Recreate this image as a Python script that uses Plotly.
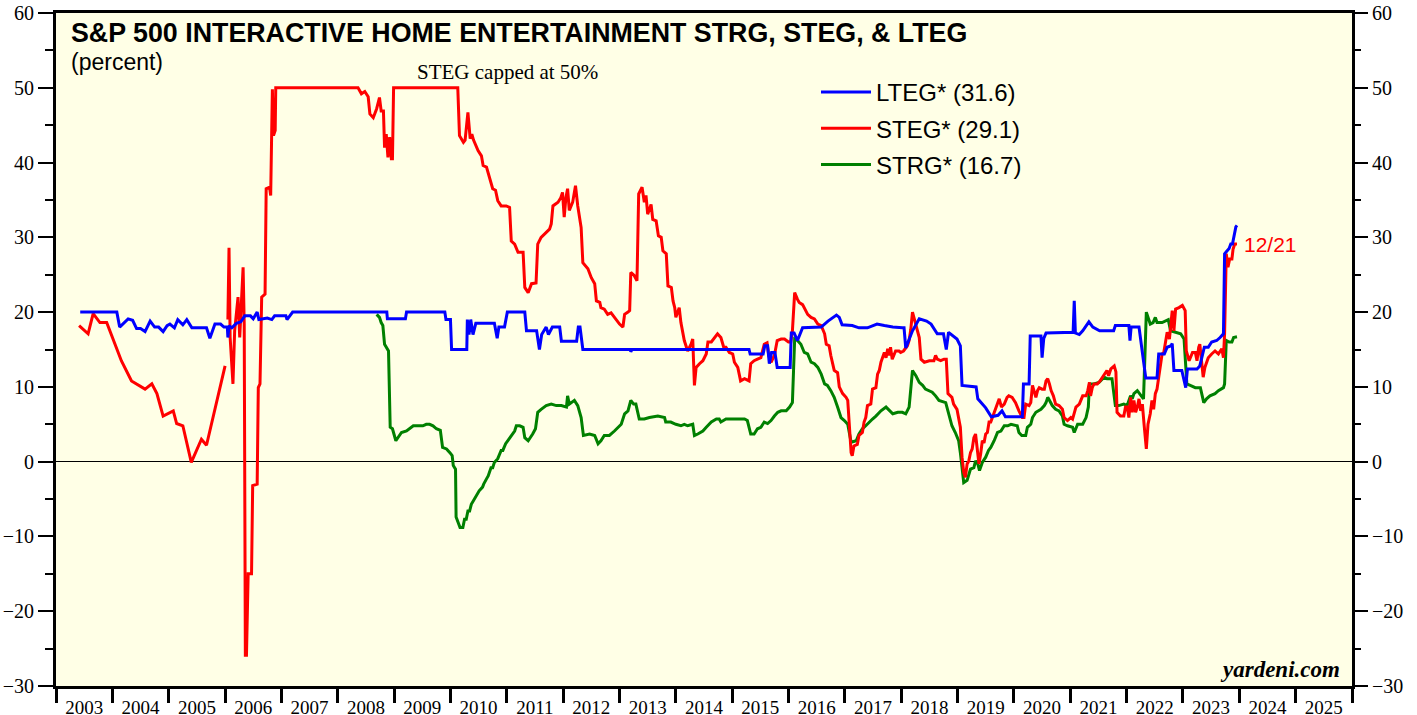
import datetime as dt
import plotly.graph_objects as go

# ---------------- data (decimal year, percent) ----------------
lteg_t = [2003.43, 2004.08, 2004.13, 2004.2, 2004.28, 2004.36, 2004.43, 2004.5, 2004.58, 2004.67,
          2004.75, 2004.82, 2004.9, 2004.97, 2005.02, 2005.1, 2005.16, 2005.25, 2005.32, 2005.41,
          2005.67, 2005.73, 2005.82, 2005.92, 2005.98, 2006.04, 2006.05, 2006.07, 2006.12, 2006.2,
          2006.28, 2006.35, 2006.45, 2006.5, 2006.57, 2006.6, 2006.75, 2006.83, 2006.88, 2007.08,
          2007.1, 2007.2, 2008.87, 2008.88, 2009.2, 2009.22, 2009.9, 2009.92, 2010.0, 2010.02,
          2010.29, 2010.3, 2010.33, 2010.36, 2010.4, 2010.45, 2010.78, 2010.83, 2010.86, 2010.96,
          2011.01, 2011.32, 2011.35, 2011.53, 2011.58, 2011.62, 2011.7, 2011.74, 2011.81, 2011.94,
          2011.97, 2012.24, 2012.27, 2012.3, 2012.35, 2013.19, 2013.2, 2013.22, 2015.3, 2015.32,
          2015.55, 2015.58, 2015.63, 2015.66, 2015.7, 2015.76, 2015.8, 2016.03, 2016.05, 2016.1,
          2016.16, 2016.25, 2016.58, 2016.7, 2016.85, 2016.9, 2016.95, 2017.13, 2017.25, 2017.4,
          2017.57, 2017.7, 2017.85, 2018.02, 2018.05, 2018.08, 2018.12, 2018.2, 2018.32, 2018.45,
          2018.53, 2018.64, 2018.75, 2018.8, 2018.84, 2018.99, 2019.05, 2019.08, 2019.33, 2019.36,
          2019.5, 2019.6, 2019.72, 2019.79, 2019.85, 2020.15, 2020.17, 2020.27, 2020.29, 2020.48,
          2020.5, 2020.53, 2020.57, 2021.05, 2021.07, 2021.09, 2021.16, 2021.22, 2021.33, 2021.4,
          2021.52, 2021.77, 2021.8, 2022.04, 2022.06, 2022.08, 2022.22, 2022.27, 2022.34, 2022.54,
          2022.57, 2022.67, 2022.72, 2022.79, 2022.81, 2022.84, 2022.98, 2023.05, 2023.08, 2023.25,
          2023.3, 2023.38, 2023.45, 2023.51, 2023.6, 2023.66, 2023.72, 2023.74, 2023.82, 2023.85,
          2023.88, 2023.94, 2023.96]
lteg_v = [20.0, 20.0, 18.0, 18.5, 19.1, 18.9, 17.8, 17.8, 17.4, 18.8,
          18.0, 18.0, 17.4, 18.2, 18.4, 17.9, 19.0, 18.3, 19.0, 17.9,
          17.9, 16.5, 18.4, 18.4, 18.0, 18.0, 16.6, 18.2, 17.9, 18.5,
          18.7, 19.5, 19.5, 19.1, 20.0, 19.0, 19.2, 19.0, 19.5, 19.5,
          19.0, 20.0, 20.0, 19.1, 19.1, 20.0, 20.0, 19.0, 19.0, 15.0,
          15.0, 19.0, 17.0, 19.0, 17.0, 18.5, 18.5, 16.5, 18.0, 18.0,
          20.0, 20.0, 17.5, 17.5, 15.0, 17.0, 18.0, 17.0, 18.0, 18.0,
          16.1, 16.1, 18.0, 18.0, 15.0, 15.0, 14.7, 15.0, 15.0, 14.4,
          14.4, 15.5, 15.5, 13.1, 14.6, 14.6, 12.6, 12.6, 17.2, 17.2,
          16.2, 17.9, 18.0, 18.8, 19.6, 19.3, 18.3, 18.2, 17.9, 17.9,
          18.4, 18.2, 18.0, 17.9, 17.9, 15.2, 16.0, 17.5, 19.1, 18.8,
          18.4, 17.1, 17.1, 15.0, 17.3, 16.4, 15.5, 10.2, 10.0, 8.4,
          7.2, 6.0, 6.2, 6.8, 6.0, 6.0, 10.4, 10.4, 16.8, 16.8,
          13.9, 16.5, 17.2, 17.3, 21.5, 17.2, 17.0, 17.5, 18.7, 18.0,
          17.5, 17.5, 18.2, 18.2, 16.2, 18.0, 18.0, 15.3, 11.2, 11.2,
          14.4, 14.4, 15.3, 15.5, 15.8, 12.2, 12.2, 9.9, 12.4, 12.4,
          12.8, 15.3, 15.3, 16.0, 16.2, 16.6, 17.1, 27.8, 28.5, 29.1,
          29.1, 31.4, 31.6]

steg_t = [2003.41, 2003.57, 2003.66, 2003.78, 2003.9, 2004.16, 2004.34, 2004.58, 2004.7, 2004.79,
          2004.9, 2005.08, 2005.14, 2005.25, 2005.4, 2005.58, 2005.67, 2006.0, 2006.03, 2006.05,
          2006.07, 2006.09, 2006.14, 2006.17, 2006.23, 2006.26, 2006.29, 2006.32, 2006.34, 2006.36,
          2006.38, 2006.41, 2006.47, 2006.49, 2006.57, 2006.59, 2006.62, 2006.65, 2006.71, 2006.73,
          2006.79, 2006.81, 2006.84, 2006.86, 2006.89, 2006.9, 2008.36, 2008.42, 2008.48, 2008.54,
          2008.57, 2008.63, 2008.69, 2008.74, 2008.77, 2008.81, 2008.83, 2008.86, 2008.89, 2008.92,
          2008.95, 2008.97, 2008.99, 2010.13, 2010.16, 2010.23, 2010.26, 2010.31, 2010.35, 2010.38,
          2010.41, 2010.45, 2010.49, 2010.55, 2010.58, 2010.64, 2010.67, 2010.71, 2010.75, 2010.8,
          2010.84, 2010.9, 2010.99, 2011.05, 2011.08, 2011.14, 2011.2, 2011.29, 2011.32, 2011.38,
          2011.44, 2011.52, 2011.55, 2011.61, 2011.7, 2011.76, 2011.79, 2011.82, 2011.91, 2011.96,
          2011.99, 2012.02, 2012.05, 2012.08, 2012.11, 2012.17, 2012.22, 2012.26, 2012.32, 2012.35,
          2012.44, 2012.5, 2012.56, 2012.59, 2012.65, 2012.67, 2012.73, 2012.79, 2012.85, 2012.91,
          2013.0, 2013.06, 2013.09, 2013.15, 2013.18, 2013.2, 2013.26, 2013.31, 2013.34, 2013.4,
          2013.44, 2013.47, 2013.5, 2013.56, 2013.59, 2013.65, 2013.69, 2013.74, 2013.77, 2013.83,
          2013.86, 2013.92, 2013.95, 2013.98, 2014.0, 2014.06, 2014.09, 2014.15, 2014.21, 2014.27,
          2014.3, 2014.33, 2014.36, 2014.42, 2014.48, 2014.54, 2014.57, 2014.63, 2014.69, 2014.74,
          2014.8, 2014.85, 2014.89, 2014.95, 2015.01, 2015.04, 2015.1, 2015.15, 2015.22, 2015.3,
          2015.33, 2015.39, 2015.45, 2015.51, 2015.57, 2015.62, 2015.65, 2015.69, 2015.75, 2015.77,
          2015.8, 2015.87, 2015.93, 2016.0, 2016.04, 2016.07, 2016.11, 2016.16, 2016.19, 2016.25,
          2016.28, 2016.34, 2016.4, 2016.46, 2016.52, 2016.58, 2016.64, 2016.67, 2016.72, 2016.75,
          2016.81, 2016.87, 2016.9, 2016.96, 2017.02, 2017.05, 2017.11, 2017.13, 2017.16, 2017.22,
          2017.25, 2017.31, 2017.34, 2017.37, 2017.4, 2017.46, 2017.49, 2017.55, 2017.58, 2017.61,
          2017.64, 2017.7, 2017.73, 2017.76, 2017.79, 2017.81, 2017.84, 2017.9, 2017.96, 2017.99,
          2018.04, 2018.08, 2018.11, 2018.14, 2018.17, 2018.2, 2018.23, 2018.27, 2018.32, 2018.35,
          2018.41, 2018.5, 2018.58, 2018.61, 2018.64, 2018.7, 2018.76, 2018.8, 2018.83, 2018.9,
          2018.93, 2018.99, 2019.02, 2019.05, 2019.08, 2019.11, 2019.14, 2019.17, 2019.2, 2019.23,
          2019.26, 2019.29, 2019.32, 2019.35, 2019.38, 2019.41, 2019.44, 2019.47, 2019.5, 2019.53,
          2019.56, 2019.59, 2019.62, 2019.65, 2019.69, 2019.72, 2019.74, 2019.78, 2019.83, 2019.88,
          2019.91, 2019.97, 2020.03, 2020.09, 2020.12, 2020.15, 2020.18, 2020.21, 2020.27, 2020.3,
          2020.33, 2020.36, 2020.39, 2020.42, 2020.45, 2020.5, 2020.54, 2020.57, 2020.6, 2020.63,
          2020.66, 2020.7, 2020.74, 2020.8, 2020.86, 2020.89, 2020.95, 2021.01, 2021.04, 2021.1,
          2021.16, 2021.22, 2021.28, 2021.31, 2021.34, 2021.36, 2021.39, 2021.42, 2021.48, 2021.53,
          2021.59, 2021.65, 2021.68, 2021.72, 2021.78, 2021.81, 2021.83, 2021.89, 2021.95, 2021.98,
          2022.01, 2022.04, 2022.07, 2022.1, 2022.13, 2022.16, 2022.19, 2022.22, 2022.25, 2022.28,
          2022.31, 2022.34, 2022.35, 2022.38, 2022.42, 2022.45, 2022.48, 2022.51, 2022.54, 2022.57,
          2022.6, 2022.63, 2022.66, 2022.69, 2022.72, 2022.76, 2022.81, 2022.84, 2022.87, 2022.93,
          2022.99, 2023.04, 2023.06, 2023.11, 2023.17, 2023.22, 2023.25, 2023.28, 2023.3, 2023.33,
          2023.36, 2023.39, 2023.45, 2023.51, 2023.57, 2023.63, 2023.69, 2023.72, 2023.74, 2023.77,
          2023.8, 2023.83, 2023.87, 2023.89, 2023.92, 2023.96]
steg_v = [18.2, 17.1, 19.8, 18.6, 18.6, 13.5, 10.8, 9.7, 10.4, 9.1,
          6.1, 6.8, 5.1, 4.8, -0.1, 3.0, 2.2, 12.8, None, 19.0,
          28.6, 16.6, 10.4, 17.5, 22.0, 16.6, 21.1, 26.0, 18.4, -25.9,
          -25.9, -15.0, -15.0, -3.2, -3.0, 9.9, 10.4, 22.0, 22.4, 36.5,
          36.7, 35.6, 49.8, 43.6, 44.3, 50.0, 50.0, 49.2, 49.5, 48.8,
          46.5, 46.0, 47.2, 48.7, 46.9, 46.9, 42.0, 43.8, 40.7, 43.4,
          40.5, 40.5, 50.0, 50.0, 43.6, 42.7, 43.0, 46.7, 43.2, 43.8,
          43.0, 42.2, 41.6, 40.9, 39.6, 39.4, 38.5, 37.6, 36.5, 36.3,
          34.9, 34.2, 34.2, 34.0, 29.5, 29.1, 28.0, 28.0, 23.3, 22.6,
          23.8, 23.9, 29.1, 30.0, 30.7, 31.1, 31.8, 34.2, 34.7, 35.3,
          36.0, 32.7, 35.3, 36.5, 33.6, 34.7, 36.9, 34.2, 31.3, 26.6,
          25.8, 24.6, 23.8, 21.5, 21.3, 20.6, 20.4, 19.7, 19.9, 19.3,
          18.4, 18.0, 19.7, 20.0, 20.2, 25.3, 24.9, 24.2, 35.8, 36.7,
          34.7, 35.6, 33.1, 34.4, 32.4, 32.2, 30.2, 30.0, 28.2, 27.8,
          23.5, 23.3, 21.5, 20.6, 19.3, 20.6, 18.6, 16.2, 14.8, 15.7,
          16.4, 10.2, 12.6, 13.1, 13.5, 14.4, 16.0, 16.0, 16.6, 17.1,
          16.6, 15.3, 15.3, 14.6, 14.4, 13.3, 12.6, 10.8, 11.1, 10.8,
          13.1, 13.5, 13.7, 13.9, 15.7, 15.9, 14.2, 13.3, 14.2, 15.0,
          16.2, 16.4, 16.4, 16.0, 16.0, 17.5, 22.6, 21.7, 21.3, 21.0,
          20.6, 19.7, 19.3, 19.1, 18.4, 18.2, 17.1, 15.7, 15.5, 14.2,
          12.2, 11.9, 10.0, 9.1, 8.6, 8.2, 1.2, 0.8, 2.1, 2.3,
          3.5, 3.9, 5.3, 5.9, 7.5, 7.7, 9.7, 9.9, 11.7, 12.2,
          13.3, 14.6, 13.9, 15.1, 14.2, 15.3, 13.7, 14.8, 14.8, 14.6,
          14.8, 15.3, 15.5, 16.2, 17.7, 20.0, 19.1, 18.2, 16.6, 13.7,
          13.3, 13.5, 13.5, 14.2, 13.7, 13.5, 13.7, 13.7, 9.1, 8.6,
          7.7, 7.0, 5.5, 4.6, 0.6, -1.4, -2.1, -0.3, 0.1, 1.2,
          1.7, 3.2, 3.7, 1.7, -0.3, 1.0, 2.8, 2.5, 3.7, 3.9,
          5.3, 5.3, 5.9, 6.4, 7.3, 7.9, 8.4, 7.3, 7.7, 8.6,
          8.8, 8.6, 7.9, 6.8, 6.4, 5.9, 5.9, 7.7, 7.5, 7.9,
          10.2, 9.5, 8.6, 9.5, 9.9, 9.7, 9.7, 10.8, 11.1, 10.4,
          9.5, 8.8, 7.7, 7.5, 7.0, 5.9, 5.5, 5.9, 5.7, 7.3,
          7.7, 8.8, 8.8, 9.5, 10.6, 8.8, 9.9, 10.4, 10.4, 10.8,
          11.5, 12.2, 11.5, 12.4, 12.8, 12.0, 6.6, 6.1, 6.1, 7.3,
          7.3, 5.9, 8.6, 6.6, 8.2, 6.6, 7.3, 8.4, 6.8, 7.7,
          5.0, 3.0, 1.7, 5.0, 6.4, 8.2, 7.0, 9.1, 9.7, 11.3,
          12.6, 14.4, 14.6, 16.0, 17.3, 16.4, 20.2, 17.5, 20.4, 20.6,
          20.9, 20.2, 14.8, 13.5, 14.6, 14.6, 13.5, 15.3, 15.7, 13.5,
          11.3, 12.6, 13.9, 14.4, 14.8, 14.4, 15.1, 13.9, 17.1, 27.8,
          26.0, 27.1, 27.1, 28.4, 29.1, 29.1]

strg_t = [2008.69, 2008.74, 2008.77, 2008.8, 2008.83, 2008.86, 2008.9, 2008.93, 2008.97, 2009.03,
          2009.07, 2009.13, 2009.22, 2009.28, 2009.34, 2009.51, 2009.57, 2009.63, 2009.69, 2009.75,
          2009.82, 2009.86, 2009.93, 2009.99, 2010.03, 2010.05, 2010.09, 2010.1, 2010.13, 2010.17,
          2010.22, 2010.25, 2010.28, 2010.31, 2010.34, 2010.37, 2010.41, 2010.46, 2010.51, 2010.57,
          2010.59, 2010.64, 2010.67, 2010.72, 2010.75, 2010.78, 2010.84, 2010.9, 2010.93, 2010.98,
          2011.02, 2011.08, 2011.14, 2011.17, 2011.23, 2011.29, 2011.32, 2011.38, 2011.42, 2011.46,
          2011.51, 2011.55, 2011.61, 2011.7, 2011.79, 2011.88, 2011.97, 2012.06, 2012.08, 2012.11,
          2012.2, 2012.26, 2012.32, 2012.36, 2012.47, 2012.56, 2012.62, 2012.67, 2012.73, 2012.82,
          2012.91, 2012.97, 2013.03, 2013.09, 2013.15, 2013.2, 2013.25, 2013.29, 2013.35, 2013.44,
          2013.53, 2013.68, 2013.8, 2013.82, 2013.91, 2014.0, 2014.09, 2014.15, 2014.21, 2014.3,
          2014.33, 2014.39, 2014.48, 2014.54, 2014.63, 2014.72, 2014.77, 2014.8, 2014.89, 2015.07,
          2015.22, 2015.27, 2015.3, 2015.33, 2015.39, 2015.45, 2015.51, 2015.57, 2015.63, 2015.69,
          2015.75, 2015.81, 2015.87, 2015.96, 2016.02, 2016.07, 2016.09, 2016.11, 2016.16, 2016.22,
          2016.28, 2016.34, 2016.4, 2016.46, 2016.52, 2016.58, 2016.64, 2016.69, 2016.75, 2016.81,
          2016.87, 2016.93, 2016.99, 2017.05, 2017.11, 2017.2, 2017.25, 2017.31, 2017.37, 2017.43,
          2017.49, 2017.55, 2017.64, 2017.73, 2017.79, 2017.85, 2017.94, 2018.02, 2018.08, 2018.11,
          2018.14, 2018.2, 2018.26, 2018.32, 2018.38, 2018.43, 2018.5, 2018.55, 2018.61, 2018.67,
          2018.79, 2018.85, 2018.9, 2018.96, 2019.02, 2019.05, 2019.08, 2019.11, 2019.17, 2019.2,
          2019.23, 2019.29, 2019.32, 2019.36, 2019.39, 2019.44, 2019.5, 2019.55, 2019.59, 2019.65,
          2019.71, 2019.77, 2019.83, 2019.89, 2019.95, 2020.06, 2020.09, 2020.14, 2020.21, 2020.24,
          2020.3, 2020.33, 2020.39, 2020.48, 2020.54, 2020.57, 2020.6, 2020.63, 2020.68, 2020.74,
          2020.8, 2020.86, 2020.89, 2020.95, 2021.04, 2021.07, 2021.13, 2021.22, 2021.28, 2021.32,
          2021.34, 2021.42, 2021.51, 2021.6, 2021.65, 2021.74, 2021.8, 2021.86, 2021.95, 2022.01,
          2022.07, 2022.1, 2022.13, 2022.19, 2022.25, 2022.3, 2022.33, 2022.35, 2022.42, 2022.47,
          2022.51, 2022.54, 2022.63, 2022.68, 2022.74, 2022.78, 2022.87, 2022.96, 2023.02, 2023.05,
          2023.07, 2023.13, 2023.22, 2023.31, 2023.34, 2023.37, 2023.42, 2023.48, 2023.57, 2023.63,
          2023.72, 2023.74, 2023.77, 2023.82, 2023.87, 2023.9, 2023.96]
strg_v = [19.7, 19.3, 18.6, 18.2, 15.7, 15.3, 14.8, 4.6, 4.4, 2.8,
          3.2, 3.9, 4.1, 4.4, 4.8, 4.8, 5.0, 5.0, 4.8, 4.4,
          4.2, 1.9, 1.7, 1.2, 0.8, -0.5, -1.0, -7.4, -8.1, -8.8,
          -8.8, -7.7, -7.7, -6.6, -6.6, -5.7, -5.2, -4.5, -3.9, -3.4,
          -3.0, -2.3, -1.9, -0.8, -0.8, -0.1, 0.4, 1.5, 1.5, 2.4,
          2.8, 3.5, 4.1, 4.8, 4.8, 4.6, 3.2, 2.8, 3.2, 3.7,
          4.4, 6.6, 7.0, 7.5, 7.7, 7.5, 7.5, 7.3, 8.8, 7.7,
          8.2, 7.5, 5.9, 3.5, 3.7, 3.5, 2.4, 2.8, 3.5, 3.5,
          4.1, 4.6, 5.0, 6.4, 6.8, 8.2, 7.7, 7.7, 5.7, 5.7,
          5.9, 6.1, 5.9, 5.3, 5.3, 5.0, 4.8, 5.0, 4.8, 5.0,
          3.5, 3.7, 4.1, 4.6, 5.3, 5.7, 5.7, 5.3, 5.7, 5.7,
          5.7, 5.5, 4.6, 3.7, 3.7, 4.4, 4.6, 5.3, 5.1, 5.5,
          6.1, 6.6, 6.8, 6.8, 7.3, 7.9, 12.2, 16.4, 16.2, 15.7,
          14.6, 14.4, 13.3, 13.1, 12.6, 11.7, 10.4, 10.2, 9.5, 8.6,
          7.3, 5.9, 5.5, 5.0, 2.6, 2.8, 3.7, 4.4, 4.8, 5.3,
          5.7, 6.1, 6.8, 7.3, 6.8, 6.4, 6.6, 6.6, 6.4, 6.8,
          7.3, 12.2, 11.5, 10.6, 10.2, 9.7, 9.5, 9.3, 8.8, 8.2,
          7.9, 6.4, 4.8, 3.9, 2.8, 1.2, -1.2, -2.8, -2.5, -1.7,
          -1.0, -0.8, 0.1, -0.3, -1.2, -0.1, 0.6, 1.5, 1.9, 2.8,
          3.9, 4.1, 4.8, 4.8, 5.0, 4.8, 3.9, 3.5, 3.5, 4.6,
          5.0, 5.9, 6.6, 7.0, 7.5, 7.9, 8.6, 8.2, 7.5, 7.0,
          6.8, 6.1, 5.0, 4.8, 4.6, 3.9, 5.0, 5.0, 5.9, 7.3,
          10.4, 10.4, 10.6, 11.3, 11.1, 11.1, 7.5, 7.5, 7.7, 7.5,
          8.8, 8.4, 9.1, 9.5, 8.8, 8.4, 15.3, 20.0, 18.4, 18.6,
          19.3, 18.6, 18.6, 18.8, 19.0, 17.5, 17.3, 17.1, 16.4, 13.5,
          10.4, 10.2, 9.9, 9.9, 8.8, 7.9, 8.4, 8.8, 9.1, 9.5,
          9.9, 10.4, 16.2, 16.0, 16.0, 16.6, 16.7]

series_names = ["LTEG* (31.6)", "STEG* (29.1)", "STRG* (16.7)"]
year_start, year_end = 2003, 2026


def to_date(t):
    y = int(t)
    start = dt.datetime(y, 1, 1)
    days = (dt.datetime(y + 1, 1, 1) - start).days
    return start + dt.timedelta(days=(t - y) * days)


# ---------------- geometry (page pixels) ----------------
W, H = 1417, 715
PL, PR, PT, PB = 56, 1352, 13, 686          # plot area edges on the page
ML, MR, MT, MB = PL, W - PR, PT, H - PB


def fx(px):
    return (px - PL) / (PR - PL)


def fy(py):
    return (PB - py) / (PB - PT)


SERIF = "Liberation Serif, Times New Roman, serif"
SANS = "Liberation Sans, Arial, sans-serif"

fig = go.Figure()
fig.add_trace(go.Scatter(x=[to_date(t) for t in strg_t], y=strg_v, mode="lines",
                         name=series_names[2], line=dict(color="#008000", width=3),
                         legendgroup="c", legendrank=3))
fig.add_trace(go.Scatter(x=[to_date(t) for t in steg_t], y=steg_v, mode="lines",
                         name=series_names[1], line=dict(color="#FF0000", width=3),
                         connectgaps=False, legendgroup="b", legendrank=2))
fig.add_trace(go.Scatter(x=[to_date(t) for t in lteg_t], y=lteg_v, mode="lines",
                         name=series_names[0], line=dict(color="#0000FF", width=3),
                         legendgroup="a", legendrank=1))
# invisible trace to activate the right-hand axis
fig.add_trace(go.Scatter(x=[to_date(2003.5)], y=[None], yaxis="y2", showlegend=False,
                         hoverinfo="skip", mode="lines"))

yticks = list(range(-30, 61, 10))
yaxis_common = dict(range=[-30, 60], tickmode="array", tickvals=yticks,
                    ticks="outside", ticklen=15, tickwidth=2, tickcolor="black",
                    minor=dict(ticks="outside", ticklen=8, tickwidth=2, tickcolor="black",
                               dtick=5, tick0=0, showgrid=False),
                    tickfont=dict(family=SERIF, size=20, color="black"),
                    showgrid=False, fixedrange=True, automargin=False)

fig.update_layout(
    width=W, height=H,
    margin=dict(l=ML, r=MR, t=MT, b=MB, pad=0, autoexpand=False),
    paper_bgcolor="white", plot_bgcolor="#FFFFE6",
    showlegend=True,
    legend=dict(x=fx(816), y=fy(70), xanchor="left", yanchor="top",
                bgcolor="rgba(0,0,0,0)", borderwidth=0,
                font=dict(family=SANS, size=24, color="black"),
                itemwidth=50, traceorder="grouped", tracegroupgap=2),
    xaxis=dict(type="date", range=[dt.datetime(year_start, 1, 1), dt.datetime(year_end, 1, 1)],
               tick0=dt.datetime(year_start, 1, 1), dtick="M12", tickformat="%Y",
               ticklabelmode="period", ticks="outside", ticklen=14, tickwidth=2.5,
               tickcolor="black", ticklabelstandoff=-12, automargin=False,
               tickfont=dict(family=SERIF, size=19, color="black"),
               showline=True, linewidth=3, linecolor="black", mirror=True,
               showgrid=False, zeroline=False),
    yaxis=dict(**yaxis_common, showline=True, linewidth=3, linecolor="black", mirror=True,
               zeroline=True, zerolinecolor="black", zerolinewidth=1),
    yaxis2=dict(**yaxis_common, overlaying="y", side="right", showline=False, zeroline=False),
    annotations=[
        dict(xref="paper", yref="paper", x=fx(69), y=fy(33), xanchor="left", yanchor="middle",
             text="<b>S&P 500 INTERACTIVE HOME ENTERTAINMENT STRG, STEG, & LTEG</b>",
             showarrow=False, font=dict(family=SANS, size=26.8, color="black")),
        dict(xref="paper", yref="paper", x=fx(69), y=fy(62), xanchor="left", yanchor="middle",
             text="(percent)", showarrow=False, font=dict(family=SANS, size=23, color="black")),
        dict(xref="paper", yref="paper", x=fx(507), y=fy(72), xanchor="center", yanchor="middle",
             text="STEG capped at 50%", showarrow=False,
             font=dict(family=SERIF, size=21, color="black")),
        dict(xref="paper", yref="paper", x=fx(1242), y=fy(244), xanchor="left", yanchor="middle",
             text="12/21", showarrow=False, font=dict(family=SANS, size=21, color="#FF0000")),
        dict(xref="paper", yref="paper", x=fx(1342), y=fy(669), xanchor="right", yanchor="middle",
             text="<b><i>yardeni.com</i></b>", showarrow=False,
             font=dict(family=SERIF, size=23, color="black")),
    ],
)

# the page body has a default 8px margin; remove it so the figure fills the window exactly
fig.write_html("out.html", config={"displayModeBar": False},
               post_script="document.body.style.margin='0px';")
